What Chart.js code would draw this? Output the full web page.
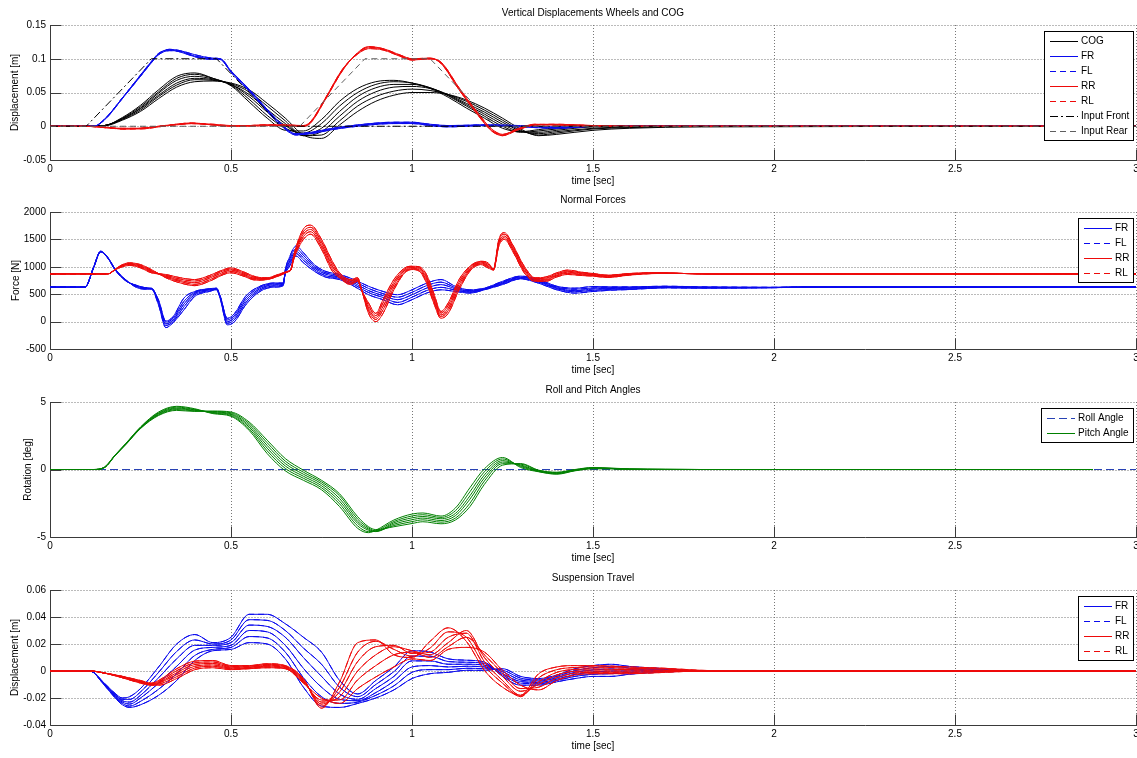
<!DOCTYPE html>
<html>
<head>
<meta charset="utf-8">
<title>Vehicle response over a bump</title>
<script src="https://cdn.jsdelivr.net/npm/chart.js@4.4.0/dist/chart.umd.min.js"></script>
<style>
  html, body { margin: 0; padding: 0; background: #fff; width: 1137px; height: 758px; overflow: hidden; }
  canvas { position: absolute; left: 0; }
</style>
</head>
<body>
<canvas id="pDisp"></canvas>
<canvas id="pForce"></canvas>
<canvas id="pAngle"></canvas>
<canvas id="pTravel"></canvas>
<script>
// ---------- axis ticks ----------
const timeTicks   = [0, 0.5, 1, 1.5, 2, 2.5, 3];
const dispTicks   = [-0.05, 0, 0.05, 0.1, 0.15];
const forceTicks  = [-500, 0, 500, 1000, 1500, 2000];
const angleTicks  = [-5, 0, 5];
const travelTicks = [-0.04, -0.02, 0, 0.02, 0.04, 0.06];

// ---------- road inputs [m] ----------
const inputFrontT = [0, 0.1, 0.28, 0.46, 0.64, 3];
const inputFrontV = [0, 0, 0.1, 0.1, 0, 0];
const inputRearT  = [0, 0.69, 0.87, 1.05, 1.23, 3];
const inputRearV  = [0, 0, 0.1, 0.1, 0, 0];

// ---------- COG vertical displacement [m], one run per array ----------
const cogT = [0, 0.1, 0.15, 0.2, 0.25, 0.3, 0.35, 0.4, 0.45, 0.5, 0.55, 0.6, 0.65, 0.7, 0.75, 0.8, 0.85, 0.9, 0.95, 1.0, 1.05, 1.1, 1.15, 1.2, 1.25, 1.3, 1.35, 1.4, 1.5, 1.6, 1.8, 3.0];
const cogA = [0, 0, 0.001, 0.013, 0.031, 0.054, 0.074, 0.079, 0.071, 0.060, 0.036, 0.012, -0.006, -0.007, 0.010, 0.037, 0.056, 0.066, 0.068, 0.064, 0.056, 0.043, 0.027, 0.012, -0.003, -0.008, -0.005, -0.002, 0.001, 0.0005, 0, 0];
const cogB = [0, 0, 0.001, 0.012, 0.029, 0.051, 0.071, 0.077, 0.071, 0.061, 0.040, 0.016, -0.003, -0.010, 0.004, 0.030, 0.050, 0.062, 0.066, 0.064, 0.057, 0.045, 0.030, 0.015, 0.000, -0.009, -0.007, -0.004, 0, 0, 0, 0];
const cogC = [0, 0, 0.001, 0.011, 0.027, 0.049, 0.068, 0.074, 0.070, 0.062, 0.044, 0.021, 0.001, -0.012, -0.003, 0.022, 0.044, 0.057, 0.062, 0.062, 0.057, 0.046, 0.032, 0.018, 0.003, -0.008, -0.009, -0.006, -0.001, -0.0005, 0, 0];
const cogD = [0, 0, 0.001, 0.011, 0.026, 0.046, 0.064, 0.071, 0.069, 0.062, 0.047, 0.025, 0.004, -0.014, -0.008, 0.015, 0.037, 0.051, 0.058, 0.059, 0.056, 0.047, 0.034, 0.021, 0.006, -0.007, -0.011, -0.008, -0.003, -0.001, 0, 0];
const cogE = [0, 0, 0.001, 0.010, 0.024, 0.044, 0.061, 0.069, 0.068, 0.063, 0.051, 0.030, 0.008, -0.014, -0.013, 0.008, 0.030, 0.044, 0.052, 0.055, 0.053, 0.047, 0.037, 0.024, 0.009, -0.006, -0.013, -0.010, -0.004, -0.002, 0, 0];
const cogF = [0, 0, 0.0005, 0.009, 0.022, 0.041, 0.058, 0.066, 0.067, 0.064, 0.054, 0.034, 0.012, -0.013, -0.018, 0.002, 0.022, 0.037, 0.046, 0.050, 0.050, 0.047, 0.039, 0.027, 0.012, -0.004, -0.014, -0.012, -0.006, -0.003, -0.001, 0];

// ---------- front wheel vertical displacement [m] ----------
const frWheelT = [0, 0.12, 0.15, 0.2, 0.25, 0.28, 0.3, 0.33, 0.36, 0.4, 0.45, 0.47, 0.5, 0.55, 0.6, 0.64, 0.68, 0.72, 0.78, 0.85, 0.95, 1.0, 1.05, 1.1, 1.2, 1.3, 1.4, 1.5, 1.6, 3.0];
const frWheelA = [0, 0, 0.010, 0.042, 0.075, 0.095, 0.107, 0.114, 0.112, 0.106, 0.101, 0.100, 0.080, 0.052, 0.022, 0.000, -0.013, -0.010, -0.004, 0.001, 0.005, 0.005, 0.002, 0.000, 0.002, 0.000, -0.002, 0.000, 0.000, 0];
const frWheelB = [0, 0, 0.009, 0.041, 0.074, 0.094, 0.106, 0.112, 0.111, 0.104, 0.100, 0.099, 0.081, 0.054, 0.024, 0.002, -0.011, -0.009, -0.003, 0.002, 0.006, 0.006, 0.003, 0.001, 0.002, 0.001, -0.001, 0.001, 0.000, 0];
const frWheelC = [0, 0, 0.010, 0.042, 0.076, 0.096, 0.108, 0.113, 0.110, 0.103, 0.099, 0.100, 0.082, 0.055, 0.025, 0.003, -0.012, -0.011, -0.005, 0.000, 0.004, 0.004, 0.001, -0.001, 0.001, -0.001, -0.003, 0.000, 0.001, 0];

// ---------- rear wheel vertical displacement [m] ----------
const rrWheelT = [0, 0.1, 0.15, 0.2, 0.25, 0.3, 0.35, 0.39, 0.45, 0.5, 0.55, 0.6, 0.65, 0.7, 0.72, 0.76, 0.81, 0.85, 0.88, 0.92, 0.97, 1.0, 1.05, 1.08, 1.13, 1.18, 1.22, 1.25, 1.29, 1.34, 1.4, 1.5, 1.6, 1.8, 3.0];
const rrWheelA = [0, 0, -0.002, -0.004, -0.003, 0, 0.003, 0.004, 0.002, 0, 0.001, 0.002, 0.001, 0, 0.006, 0.040, 0.085, 0.108, 0.117, 0.114, 0.104, 0.099, 0.100, 0.094, 0.055, 0.019, -0.006, -0.013, -0.004, 0.003, 0.002, 0, 0, 0, 0];
const rrWheelB = [0, 0, -0.002, -0.003, -0.003, 0, 0.002, 0.004, 0.003, 0.001, 0.001, 0.002, 0.002, 0.001, 0.007, 0.041, 0.086, 0.107, 0.115, 0.113, 0.103, 0.098, 0.100, 0.095, 0.057, 0.021, -0.004, -0.012, -0.005, 0.002, 0.002, 0.001, 0, 0, 0];
const rrWheelC = [0, 0, -0.001, -0.004, -0.004, -0.001, 0.003, 0.005, 0.002, 0, 0, 0.001, 0.001, 0, 0.005, 0.039, 0.084, 0.109, 0.118, 0.115, 0.105, 0.100, 0.101, 0.093, 0.054, 0.018, -0.007, -0.014, -0.006, 0.002, 0.003, 0.001, 0, 0, 0];

// ---------- front normal force [N] ----------
const frForceT = [0, 0.097, 0.12, 0.14, 0.16, 0.18, 0.21, 0.24, 0.27, 0.28, 0.3, 0.32, 0.34, 0.37, 0.4, 0.44, 0.46, 0.47, 0.49, 0.51, 0.54, 0.58, 0.62, 0.644, 0.65, 0.66, 0.68, 0.7, 0.73, 0.76, 0.8, 0.84, 0.88, 0.92, 0.96, 1.0, 1.04, 1.08, 1.12, 1.16, 1.2, 1.25, 1.3, 1.35, 1.4, 1.45, 1.5, 1.55, 1.6, 1.7, 1.8, 2.0, 2.08, 3.0];
const frForceA = [630, 630, 990, 1285, 1170, 960, 760, 620, 590, 595, 300, -110, -20, 215, 460, 550, 580, 420, -60, 0, 300, 550, 630, 650, 950, 1150, 1380, 1257, 1040, 920, 860, 767, 644, 550, 490, 580, 700, 767, 644, 580, 610, 735, 830, 770, 645, 610, 640, 634, 634, 646, 634, 625, 630, 630];
const frForceB = [630, 630, 985, 1280, 1165, 955, 755, 635, 598, 600, 330, -70, 0, 270, 490, 565, 590, 440, -30, 40, 340, 575, 650, 665, 930, 1110, 1330, 1210, 1010, 895, 835, 735, 605, 510, 445, 535, 655, 720, 620, 565, 600, 720, 815, 750, 630, 590, 615, 620, 620, 638, 628, 625, 630, 630];
const frForceC = [630, 630, 980, 1280, 1160, 950, 750, 645, 605, 603, 350, -40, 30, 320, 515, 580, 595, 450, 0, 80, 380, 600, 670, 680, 910, 1070, 1280, 1165, 980, 870, 810, 705, 565, 475, 400, 490, 610, 675, 600, 550, 595, 705, 805, 735, 615, 565, 595, 605, 610, 630, 622, 622, 630, 630];
const frForceD = [630, 630, 975, 1275, 1160, 945, 745, 655, 610, 606, 370, -10, 60, 370, 535, 590, 600, 460, 30, 115, 420, 625, 690, 695, 890, 1030, 1240, 1120, 950, 840, 790, 675, 530, 440, 350, 445, 565, 625, 575, 535, 590, 690, 790, 720, 600, 545, 570, 590, 595, 622, 616, 620, 630, 630];
const frForceE = [630, 630, 970, 1270, 1155, 940, 740, 660, 615, 610, 390, 10, 90, 430, 550, 600, 610, 470, 60, 150, 460, 645, 705, 705, 870, 990, 1195, 1073, 920, 815, 767, 644, 490, 400, 307, 400, 520, 580, 550, 520, 580, 675, 780, 700, 580, 520, 550, 573, 585, 615, 610, 618, 630, 630];

// ---------- rear normal force [N] ----------
const rrForceT = [0, 0.16, 0.18, 0.2, 0.22, 0.25, 0.28, 0.32, 0.36, 0.4, 0.44, 0.48, 0.5, 0.53, 0.57, 0.6, 0.63, 0.66, 0.665, 0.675, 0.7, 0.72, 0.75, 0.78, 0.8, 0.83, 0.85, 0.86, 0.88, 0.9, 0.92, 0.95, 0.98, 1.0, 1.02, 1.04, 1.06, 1.08, 1.1, 1.13, 1.16, 1.19, 1.21, 1.225, 1.24, 1.255, 1.28, 1.31, 1.34, 1.37, 1.4, 1.43, 1.47, 1.5, 1.54, 1.6, 1.68, 1.75, 1.85, 3.0];
const rrForceA = [870, 870, 955, 1040, 1073, 1040, 950, 800, 705, 656, 735, 860, 890, 840, 755, 767, 828, 915, 940, 1250, 1690, 1760, 1500, 1100, 890, 767, 800, 600, 150, 0, 150, 580, 890, 950, 920, 705, 340, 60, 150, 580, 920, 1040, 980, 940, 1380, 1500, 1260, 890, 735, 735, 815, 860, 840, 830, 805, 848, 878, 878, 866, 870];
const rrForceB = [870, 870, 952, 1030, 1060, 1025, 935, 815, 730, 680, 760, 880, 915, 860, 770, 775, 835, 918, 940, 1230, 1640, 1720, 1455, 1055, 865, 745, 785, 595, 200, 40, 215, 625, 910, 965, 940, 745, 385, 90, 200, 625, 945, 1055, 1005, 945, 1410, 1530, 1290, 920, 750, 755, 835, 880, 855, 840, 815, 855, 882, 878, 866, 870];
const rrForceC = [870, 870, 950, 1025, 1050, 1010, 920, 830, 750, 710, 790, 905, 940, 880, 785, 785, 845, 920, 940, 1210, 1595, 1680, 1410, 1010, 845, 720, 770, 590, 245, 75, 275, 675, 935, 980, 960, 785, 430, 120, 245, 675, 965, 1070, 1025, 950, 1440, 1560, 1320, 950, 770, 775, 850, 900, 870, 855, 825, 862, 886, 878, 868, 870];
const rrForceD = [870, 870, 948, 1015, 1040, 995, 905, 845, 775, 740, 815, 930, 960, 900, 800, 790, 850, 922, 940, 1190, 1550, 1640, 1365, 965, 820, 700, 750, 585, 295, 110, 340, 720, 960, 995, 980, 820, 475, 155, 295, 720, 990, 1085, 1050, 955, 1470, 1595, 1350, 980, 785, 795, 870, 920, 885, 865, 838, 870, 890, 878, 868, 870];
const rrForceE = [870, 870, 945, 1000, 1025, 980, 890, 860, 800, 767, 840, 950, 980, 920, 815, 800, 860, 925, 940, 1170, 1500, 1595, 1320, 920, 800, 675, 735, 580, 340, 150, 400, 767, 980, 1010, 1000, 860, 520, 185, 340, 767, 1010, 1100, 1073, 960, 1500, 1625, 1380, 1010, 800, 815, 890, 940, 900, 878, 848, 878, 895, 878, 870, 870];

// ---------- body angles [deg] ----------
const rollT = [0, 3];
const rollV = [0, 0];
const pitchT = [0, 0.12, 0.15, 0.18, 0.21, 0.25, 0.3, 0.35, 0.4, 0.45, 0.5, 0.55, 0.6, 0.65, 0.7, 0.75, 0.8, 0.85, 0.88, 0.9, 0.95, 1.0, 1.03, 1.08, 1.12, 1.16, 1.2, 1.25, 1.3, 1.35, 1.4, 1.45, 1.5, 1.55, 1.6, 1.7, 1.8, 2.88];
const pitchA = [0, 0, 0.17, 1.08, 1.95, 3.15, 4.26, 4.68, 4.50, 4.14, 3.94, 2.90, 1.18, -0.10, -0.80, -1.50, -2.75, -4.36, -4.68, -4.50, -3.74, -3.30, -3.22, -3.45, -2.85, -1.35, 0.05, 0.89, 0.15, -0.17, -0.35, -0.10, 0.05, 0.05, 0.00, 0, 0, 0];
const pitchB = [0, 0, 0.16, 1.07, 1.93, 3.12, 4.20, 4.62, 4.45, 4.18, 4.00, 3.02, 1.38, 0.08, -0.65, -1.35, -2.55, -4.18, -4.60, -4.55, -3.85, -3.44, -3.35, -3.55, -3.05, -1.65, -0.17, 0.78, 0.22, -0.15, -0.32, -0.08, 0.07, 0.06, 0.01, 0.005, 0, 0];
const pitchC = [0, 0, 0.15, 1.06, 1.92, 3.10, 4.15, 4.55, 4.42, 4.22, 4.07, 3.15, 1.58, 0.26, -0.50, -1.20, -2.35, -4.00, -4.50, -4.58, -3.95, -3.58, -3.48, -3.65, -3.25, -1.95, -0.40, 0.66, 0.28, -0.12, -0.29, -0.06, 0.09, 0.07, 0.02, 0.005, 0, 0];
const pitchD = [0, 0, 0.14, 1.05, 1.90, 3.07, 4.10, 4.50, 4.38, 4.26, 4.13, 3.27, 1.78, 0.44, -0.35, -1.05, -2.15, -3.85, -4.42, -4.60, -4.05, -3.72, -3.60, -3.78, -3.42, -2.20, -0.62, 0.55, 0.34, -0.10, -0.26, -0.04, 0.11, 0.08, 0.03, 0.01, 0, 0];
const pitchE = [0, 0, 0.14, 1.04, 1.88, 3.05, 4.05, 4.44, 4.34, 4.30, 4.20, 3.40, 1.98, 0.62, -0.20, -0.92, -1.95, -3.68, -4.33, -4.55, -4.15, -3.86, -3.73, -3.90, -3.60, -2.50, -0.85, 0.43, 0.40, -0.07, -0.23, -0.02, 0.13, 0.09, 0.04, 0.01, 0, 0];
const pitchF = [0, 0, 0.13, 1.03, 1.86, 3.03, 4.00, 4.38, 4.30, 4.33, 4.26, 3.52, 2.17, 0.81, -0.05, -0.80, -1.80, -3.50, -4.24, -4.45, -4.24, -4.00, -3.87, -4.02, -3.74, -2.75, -1.10, 0.32, 0.44, -0.05, -0.20, 0.00, 0.15, 0.10, 0.05, 0.01, 0, 0];

// ---------- front suspension travel [m] ----------
const frTravelT = [0, 0.11, 0.15, 0.18, 0.2, 0.22, 0.25, 0.3, 0.35, 0.4, 0.45, 0.5, 0.55, 0.6, 0.65, 0.7, 0.75, 0.8, 0.85, 0.9, 0.95, 1.0, 1.05, 1.1, 1.15, 1.2, 1.25, 1.3, 1.35, 1.4, 1.45, 1.5, 1.55, 1.6, 1.7, 1.8, 2.27, 3.0];
const frTravelA = [0, 0, -0.0090, -0.0166, -0.020, -0.019, -0.013, 0.003, 0.020, 0.027, 0.021, 0.025, 0.042, 0.042, 0.035, 0.025, 0.014, -0.007, -0.017, -0.007, 0.003, 0.015, 0.014, 0.009, 0.008, 0.0066, -0.004, -0.0105, -0.0105, -0.008, -0.0056, -0.004, -0.004, -0.0024, -0.0007, 0, 0, 0];
const frTravelB = [0, 0, -0.0093, -0.0173, -0.021, -0.021, -0.0155, -0.001, 0.0145, 0.023, 0.020, 0.023, 0.038, 0.0375, 0.030, 0.017, 0.005, -0.012, -0.019, -0.010, -0.0005, 0.011, 0.011, 0.007, 0.0065, 0.0055, -0.003, -0.009, -0.0095, -0.007, -0.004, -0.0024, -0.002, -0.0012, -0.0002, 0, 0, 0];
const frTravelC = [0, 0, -0.0096, -0.018, -0.022, -0.023, -0.018, -0.005, 0.009, 0.019, 0.019, 0.021, 0.034, 0.033, 0.025, 0.010, -0.004, -0.017, -0.021, -0.013, -0.004, 0.0075, 0.0075, 0.005, 0.005, 0.0043, -0.002, -0.0078, -0.0085, -0.006, -0.0025, -0.0008, 0, 0, 0.0003, 0, 0, 0];
const frTravelD = [0, 0, -0.0099, -0.0187, -0.023, -0.0245, -0.020, -0.009, 0.0035, 0.0155, 0.0175, 0.019, 0.030, 0.029, 0.019, 0.002, -0.012, -0.021, -0.022, -0.016, -0.0075, 0.003, 0.004, 0.003, 0.0035, 0.003, -0.0005, -0.0066, -0.0075, -0.005, -0.001, 0.0008, 0.0015, 0.001, 0.0008, 0, 0, 0];
const frTravelE = [0, 0, -0.0102, -0.0194, -0.024, -0.026, -0.0225, -0.0135, -0.002, 0.0115, 0.016, 0.0175, 0.0255, 0.0245, 0.014, -0.005, -0.019, -0.024, -0.023, -0.018, -0.011, -0.001, 0.001, 0.001, 0.002, 0.0017, 0.0007, -0.0053, -0.0066, -0.004, 0.0003, 0.0024, 0.0035, 0.0022, 0.0012, 0, 0, 0];
const frTravelF = [0, 0, -0.0105, -0.020, -0.025, -0.027, -0.025, -0.018, -0.007, 0.0078, 0.015, 0.016, 0.021, 0.020, 0.009, -0.012, -0.026, -0.027, -0.024, -0.020, -0.014, -0.0056, -0.002, -0.001, 0.0005, 0.0005, 0.0017, -0.004, -0.0056, -0.003, 0.0017, 0.004, 0.005, 0.0034, 0.0017, 0, 0, 0];

// ---------- rear suspension travel [m] ----------
const rrTravelT = [0, 0.11, 0.15, 0.2, 0.25, 0.28, 0.3, 0.35, 0.4, 0.45, 0.5, 0.55, 0.6, 0.65, 0.7, 0.75, 0.8, 0.85, 0.9, 0.95, 1.0, 1.05, 1.1, 1.15, 1.2, 1.25, 1.3, 1.35, 1.4, 1.45, 1.5, 1.6, 1.7, 1.8, 1.9, 3.0];
const rrTravelA = [0, 0, -0.0015, -0.004, -0.007, -0.009, -0.007, 0.0017, 0.0073, 0.0078, 0.004, 0.004, 0.0054, 0.004, -0.0056, -0.0275, -0.008, 0.021, 0.023, 0.012, 0.010, 0.022, 0.032, 0.022, 0.0005, -0.012, -0.018, -0.002, 0.003, 0.004, 0.004, 0.003, 0.002, 0.0005, 0, 0];
const rrTravelB = [0, 0, -0.0015, -0.004, -0.0075, -0.0093, -0.0078, 0.0002, 0.006, 0.0067, 0.0034, 0.0035, 0.0048, 0.0035, -0.0063, -0.026, -0.012, 0.014, 0.022, 0.016, 0.011, 0.017, 0.029, 0.025, 0.004, -0.009, -0.019, -0.005, 0.001, 0.0026, 0.003, 0.002, 0.0015, 0, 0, 0];
const rrTravelC = [0, 0, -0.0015, -0.0045, -0.008, -0.0096, -0.0085, -0.0013, 0.0048, 0.0056, 0.0028, 0.003, 0.0042, 0.003, -0.007, -0.0245, -0.0155, 0.007, 0.018, 0.019, 0.013, 0.014, 0.025, 0.028, 0.007, -0.007, -0.018, -0.008, -0.001, 0.0012, 0.0015, 0.001, 0.0005, 0, 0, 0];
const rrTravelD = [0, 0, -0.0015, -0.0045, -0.008, -0.010, -0.009, -0.0027, 0.0035, 0.0045, 0.0022, 0.0025, 0.0036, 0.0025, -0.0077, -0.023, -0.019, 0, 0.012, 0.018, 0.015, 0.012, 0.021, 0.030, 0.010, -0.004, -0.015, -0.010, -0.003, -0.0002, 0, 0, 0, 0, 0, 0];
const rrTravelE = [0, 0, -0.0015, -0.005, -0.0085, -0.0102, -0.0098, -0.0042, 0.0022, 0.0035, 0.0016, 0.002, 0.003, 0.002, -0.0084, -0.0215, -0.0215, -0.0065, 0.004, 0.012, 0.014, 0.010, 0.018, 0.025, 0.012, -0.0015, -0.013, -0.012, -0.005, -0.0016, -0.001, -0.001, -0.0005, 0, 0, 0];
const rrTravelF = [0, 0, -0.0015, -0.005, -0.009, -0.0105, -0.0105, -0.0056, 0.001, 0.0024, 0.001, 0.0017, 0.0024, 0.0017, -0.009, -0.020, -0.024, -0.013, -0.0044, 0.003, 0.009, 0.0078, 0.016, 0.0175, 0.014, 0.0005, -0.0105, -0.014, -0.007, -0.003, -0.002, -0.002, -0.001, 0, 0, 0];

// ---------- styling ----------
const FONT = "'Liberation Sans', Arial, sans-serif";
const FONT_SIZE = 10;
const BLUE = '#0a0aee', RED = '#ee0a0a', BLACK = '#000000', GREEN = '#008000', ROLL = '#2842b4', GRAY = '#5e5e5e';
const DASH = [6, 4], DASHDOT = [8, 3, 2, 3], ROLLDASH = [8, 4];

function line(t, v, color, dash, straight) {
  return {
    data: t.map((x, i) => ({ x, y: v[i] })),
    borderColor: color,
    borderWidth: 1,
    borderDash: dash || [],
    pointRadius: 0,
    fill: false,
    tension: 0,
    cubicInterpolationMode: straight ? 'default' : 'monotone'
  };
}
function family(t, runs, color, dash) {
  return runs.map(v => line(t, v, color, dash));
}

// Dotted grid, solid left/bottom axes and inward tick marks
const axesPlugin = {
  id: 'axesPlugin',
  beforeDatasetsDraw(chart) {
    const { ctx, chartArea: a, scales: { x, y } } = chart;
    const L = Math.round(a.left) + 0.5, B = Math.round(a.bottom) + 0.5;
    ctx.save();
    ctx.lineWidth = 1;
    ctx.strokeStyle = '#777';
    ctx.setLineDash([1, 2]);
    ctx.beginPath();
    x.ticks.forEach(tk => {
      const px = Math.round(x.getPixelForValue(tk.value)) + 0.5;
      if (px < L + 2) return;
      ctx.moveTo(px, a.top); ctx.lineTo(px, B);
    });
    y.ticks.forEach(tk => {
      const py = Math.round(y.getPixelForValue(tk.value)) + 0.5;
      if (py > B - 2) return;
      ctx.moveTo(L, py); ctx.lineTo(a.right + 1, py);
    });
    ctx.stroke();
    ctx.setLineDash([]);
    ctx.strokeStyle = '#3a3a3a';
    ctx.beginPath();
    ctx.moveTo(L, Math.round(a.top)); ctx.lineTo(L, B); ctx.lineTo(a.right + 1, B);
    x.ticks.forEach(tk => {
      const px = Math.round(x.getPixelForValue(tk.value)) + 0.5;
      ctx.moveTo(px, B); ctx.lineTo(px, B - 11);
    });
    y.ticks.forEach(tk => {
      const py = Math.round(y.getPixelForValue(tk.value)) + 0.5;
      ctx.moveTo(L, py); ctx.lineTo(L + 11, py);
    });
    ctx.stroke();
    ctx.restore();
  }
};

// Boxed legend in the upper right corner of the plot area
function boxLegend(entries, width) {
  return {
    id: 'boxLegend',
    afterDraw(chart) {
      const { ctx, chartArea: a } = chart;
      const h = 19 + (entries.length - 1) * 15;
      const left = Math.round(a.right - 3 - width);
      const top = Math.round(a.top + 6);
      ctx.save();
      ctx.setLineDash([]);
      ctx.fillStyle = '#fff';
      ctx.fillRect(left, top, width, h);
      ctx.lineWidth = 1;
      ctx.strokeStyle = '#000';
      ctx.strokeRect(left + 0.5, top + 0.5, width, h);
      entries.forEach((en, i) => {
        const yy = top + 10 + i * 15;
        if (en.dash.length) {
          ctx.strokeStyle = en.color;
          ctx.lineWidth = 1;
          ctx.setLineDash(en.dash);
          ctx.beginPath(); ctx.moveTo(left + 6, yy + 0.5); ctx.lineTo(left + 34, yy + 0.5); ctx.stroke();
          ctx.setLineDash([]);
        } else {
          ctx.fillStyle = en.color;
          ctx.fillRect(left + 6, yy, 28, 1);
        }
        ctx.font = FONT_SIZE + 'px ' + FONT;
        ctx.textBaseline = 'middle';
        ctx.textAlign = 'left';
        ctx.fillStyle = '#000';
        ctx.fillText(en.label, left + 37, yy + 0.5);
      });
      ctx.restore();
    }
  };
}

function panel(id, top, height, spec) {
  const cv = document.getElementById(id);
  cv.width = 1145; cv.height = height;
  cv.style.width = '1145px'; cv.style.height = height + 'px'; cv.style.top = top + 'px';
  const font = { family: FONT, size: FONT_SIZE, weight: 'normal' };
  new Chart(cv, {
    type: 'line',
    data: { datasets: spec.datasets.slice().reverse() },
    options: {
      responsive: false, animation: false, devicePixelRatio: 1,
      layout: { padding: { left: 0, right: 9, top: 0, bottom: 0 } },
      plugins: {
        legend: { display: false }, tooltip: { enabled: false },
        title: { display: true, text: spec.title, fullSize: false, color: '#000', font, padding: { top: 7, bottom: 6 } }
      },
      scales: {
        x: {
          type: 'linear', min: 0, max: 3,
          afterBuildTicks: ax => { ax.ticks = timeTicks.map(v => ({ value: v })); },
          afterFit: ax => { ax.height = 28; },
          grid: { display: false, drawTicks: false, tickLength: 0 }, border: { display: false },
          ticks: { padding: 3, color: '#000', font, autoSkip: false, maxRotation: 0, callback: v => String(v) },
          title: { display: true, text: 'time [sec]', color: '#000', font, padding: { top: 0, bottom: 1 } }
        },
        y: {
          type: 'linear', min: spec.yTicks[0], max: spec.yTicks[spec.yTicks.length - 1],
          afterBuildTicks: ax => { ax.ticks = spec.yTicks.map(v => ({ value: v })); },
          afterFit: ax => { ax.width = 50; },
          grid: { display: false, drawTicks: false, tickLength: 0 }, border: { display: false },
          ticks: { padding: 4, color: '#000', font, autoSkip: false, callback: v => String(v) },
          title: { display: true, text: spec.yTitle, color: '#000', font, padding: { top: spec.yTitlePad, bottom: 0 } }
        }
      }
    },
    plugins: [axesPlugin, boxLegend(spec.legend, spec.legendWidth)]
  });
}

// Vertical displacements of wheels and centre of gravity
panel('pDisp', 0, 188, {
  title: 'Vertical Displacements Wheels and COG',
  yTitle: 'Displacement [m]', yTitlePad: 9, yTicks: dispTicks,
  datasets: [
    ...family(cogT, [cogA, cogB, cogC, cogD, cogE, cogF], BLACK),
    ...family(frWheelT, [frWheelA, frWheelB, frWheelC], BLUE),
    ...family(frWheelT, [frWheelA, frWheelB, frWheelC], BLUE, DASH),
    ...family(rrWheelT, [rrWheelA, rrWheelB, rrWheelC], RED),
    ...family(rrWheelT, [rrWheelA, rrWheelB, rrWheelC], RED, DASH),
    line(inputFrontT, inputFrontV, BLACK, DASHDOT, true),
    line(inputRearT, inputRearV, GRAY, DASH, true)
  ],
  legend: [
    { label: 'COG', color: BLACK, dash: [] },
    { label: 'FR', color: BLUE, dash: [] },
    { label: 'FL', color: BLUE, dash: DASH },
    { label: 'RR', color: RED, dash: [] },
    { label: 'RL', color: RED, dash: DASH },
    { label: 'Input Front', color: BLACK, dash: DASHDOT },
    { label: 'Input Rear', color: GRAY, dash: DASH }
  ],
  legendWidth: 89
});

// Tyre normal forces
panel('pForce', 187, 190, {
  title: 'Normal Forces',
  yTitle: 'Force [N]', yTitlePad: 10, yTicks: forceTicks,
  datasets: [
    ...family(frForceT, [frForceA, frForceB, frForceC, frForceD, frForceE], BLUE),
    ...family(frForceT, [frForceA, frForceB, frForceC, frForceD, frForceE], BLUE, DASH),
    ...family(rrForceT, [rrForceA, rrForceB, rrForceC, rrForceD, rrForceE], RED),
    ...family(rrForceT, [rrForceA, rrForceB, rrForceC, rrForceD, rrForceE], RED, DASH)
  ],
  legend: [
    { label: 'FR', color: BLUE, dash: [] },
    { label: 'FL', color: BLUE, dash: DASH },
    { label: 'RR', color: RED, dash: [] },
    { label: 'RL', color: RED, dash: DASH }
  ],
  legendWidth: 55
});

// Body roll and pitch
panel('pAngle', 377, 188, {
  title: 'Roll and Pitch Angles',
  yTitle: 'Rotation [deg]', yTitlePad: 22.5, yTicks: angleTicks,
  datasets: [
    line(rollT, rollV, ROLL, ROLLDASH, true),
    ...family(pitchT, [pitchA, pitchB, pitchC, pitchD, pitchE, pitchF], GREEN)
  ],
  legend: [
    { label: 'Roll Angle', color: ROLL, dash: ROLLDASH },
    { label: 'Pitch Angle', color: GREEN, dash: [] }
  ],
  legendWidth: 92
});

// Suspension travel
panel('pTravel', 565, 188, {
  title: 'Suspension Travel',
  yTitle: 'Displacement [m]', yTitlePad: 9, yTicks: travelTicks,
  datasets: [
    ...family(frTravelT, [frTravelA, frTravelB, frTravelC, frTravelD, frTravelE, frTravelF], BLUE),
    ...family(frTravelT, [frTravelA, frTravelB, frTravelC, frTravelD, frTravelE, frTravelF], BLUE, DASH),
    ...family(rrTravelT, [rrTravelA, rrTravelB, rrTravelC, rrTravelD, rrTravelE, rrTravelF], RED),
    ...family(rrTravelT, [rrTravelA, rrTravelB, rrTravelC, rrTravelD, rrTravelE, rrTravelF], RED, DASH)
  ],
  legend: [
    { label: 'FR', color: BLUE, dash: [] },
    { label: 'FL', color: BLUE, dash: DASH },
    { label: 'RR', color: RED, dash: [] },
    { label: 'RL', color: RED, dash: DASH }
  ],
  legendWidth: 55
});
</script>
</body>
</html>
